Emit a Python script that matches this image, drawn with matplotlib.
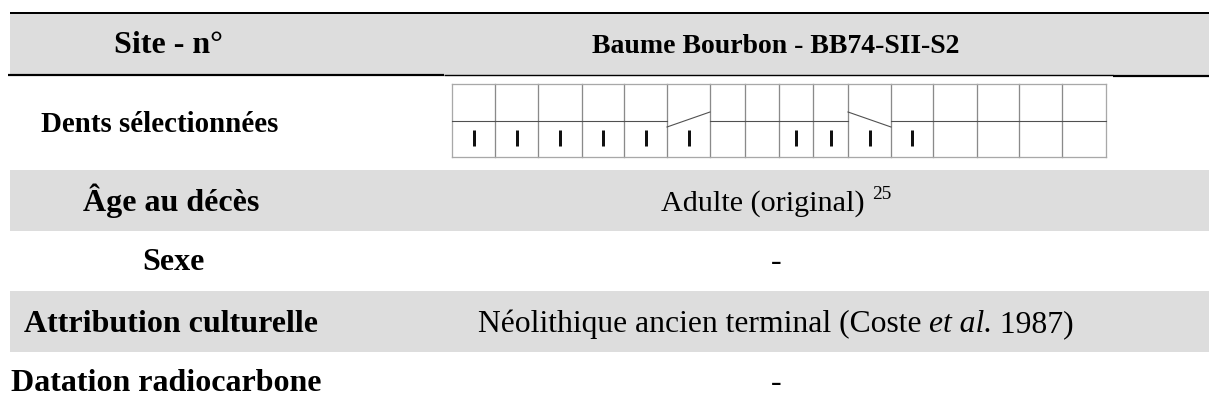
import matplotlib
matplotlib.use("Agg")
import matplotlib.pyplot as plt
from matplotlib.patches import Rectangle

plt.rcParams['font.family'] = ['Liberation Serif', 'DejaVu Serif']

# table content
row_labels = ['Site - n°', 'Dents sélectionnées', 'Âge au décès', 'Sexe',
              'Attribution culturelle', 'Datation radiocarbone']
row_values = [
    [('Baume Bourbon - BB74-SII-S2', 'bold')],
    None,  # dental chart
    [('Adulte (original)', 'normal'), (' ', 'normal'), ('25', 'sup')],
    [('-', 'normal')],
    [('Néolithique ancien terminal (Coste ', 'normal'), ('et al.', 'italic'),
     (' 1987)', 'normal')],
    [('-', 'normal')],
]
shaded_rows = [0, 2, 4]

# dental chart: 16 teeth per jaw, 1 = selected
upper_teeth = [0, 0, 0, 0, 0, 0, 0, 0, 0, 0, 0, 0, 0, 0, 0, 0]
lower_teeth = [1, 1, 1, 1, 1, 1, 0, 0, 1, 1, 1, 1, 0, 0, 0, 0]
slant_up = 5     # cell with rising divider
slant_down = 10  # cell with falling divider

# layout (pixels / points)
label_fs = [23, 20.8, 23, 23, 23, 23]
value_fs = [20, 20, 21.7, 23, 22.8, 23]
row_base = [53, 132, 211, 270, 332, 391]
label_x = [168, 160, 171, 173, 171, 166]
value_x = 776
band_top = {0: 14, 2: 170, 4: 291}
band_h = 61
col_w = [43, 43, 44, 42, 43, 43, 35, 34, 34, 35, 43, 42, 44, 42, 43, 44]
grid_x0, grid_top, grid_mid, grid_bot = 452, 83.5, 121, 157

fig = plt.figure(figsize=(12.09, 4.07), dpi=100)
ax = fig.add_axes([0, 0, 1, 1])
ax.set_xlim(0, 1209)
ax.set_ylim(407, 0)
ax.axis('off')

for r in shaded_rows:
    ax.add_patch(Rectangle((10, band_top[r]), 1199, band_h,
                           facecolor='#dddddd', edgecolor='none', zorder=0))

px = 0.72  # one pixel in points
ax.plot([10, 1209], [13.3, 13.3], color='black', lw=2 * px, solid_capstyle='butt')
ax.plot([8, 444], [75.2, 75.2], color='black', lw=2.2 * px, solid_capstyle='butt')
ax.plot([444, 1113], [74.8, 74.8], color='black', lw=1.4 * px, solid_capstyle='butt')
ax.plot([1113, 1209], [75.5, 75.5], color='black', lw=2.2 * px, solid_capstyle='butt')

# left column labels
for lab, x, y, fs in zip(row_labels, label_x, row_base, label_fs):
    ax.text(x, y, lab, fontsize=fs, fontweight='bold', ha='center', va='baseline')

# right column values, built from styled runs
renderer = fig.canvas.get_renderer()


def run_kw(style, fs):
    if style == 'bold':
        return dict(fontsize=fs, fontweight='bold')
    if style == 'italic':
        return dict(fontsize=fs, fontstyle='italic')
    if style == 'sup':
        return dict(fontsize=fs * 0.64)
    return dict(fontsize=fs)


def run_width(s, kw):
    t1 = ax.text(0, 0, '|' + s + '|', **kw)
    t2 = ax.text(0, 0, '||', **kw)
    w = t1.get_window_extent(renderer).width - t2.get_window_extent(renderer).width
    t1.remove()
    t2.remove()
    return w


for runs, y, fs in zip(row_values, row_base, value_fs):
    if runs is None:
        continue
    widths = [run_width(s, run_kw(st, fs)) for s, st in runs]
    x = value_x - sum(widths) / 2
    for (s, st), w in zip(runs, widths):
        dy = -12 if st == 'sup' else 0
        if s.strip():
            ax.text(x, y + dy, s, ha='left', va='baseline', **run_kw(st, fs))
        x += w

# dental chart
edges = [grid_x0]
for w in col_w:
    edges.append(edges[-1] + w)

grid_col = '#8a8a8a'
for i, xe in enumerate(edges):
    c = '#a8a8a8' if i in (0, len(edges) - 1) else grid_col
    ax.plot([xe, xe], [grid_top, grid_bot], color=c, lw=1.3 * px)
ax.plot([edges[0], edges[-1]], [grid_top, grid_top], color='#a8a8a8', lw=1.3 * px)
ax.plot([edges[0], edges[-1]], [grid_bot, grid_bot], color='#a8a8a8', lw=1.3 * px)

for i in range(len(col_w)):
    xl, xr = edges[i], edges[i + 1]
    if i == slant_up:
        ax.plot([xl, xr], [grid_mid + 6, grid_mid - 9], color='#505050', lw=1.1 * px)
    elif i == slant_down:
        ax.plot([xl, xr], [grid_mid - 9, grid_mid + 6], color='#505050', lw=1.1 * px)
    else:
        ax.plot([xl, xr], [grid_mid, grid_mid], color='#505050', lw=1.1 * px)
    xc = (xl + xr) / 2
    if upper_teeth[i]:
        ax.plot([xc, xc], [92, 108], color='#111111', lw=3 * px, solid_capstyle='butt')
    if lower_teeth[i]:
        ax.plot([xc, xc], [130, 146], color='#111111', lw=3 * px, solid_capstyle='butt')

fig.savefig('out.png', dpi=100)
